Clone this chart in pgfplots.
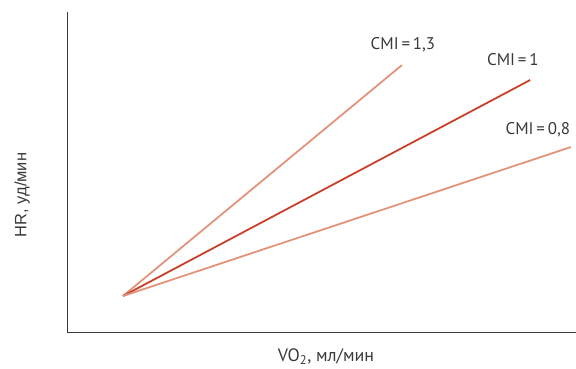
\documentclass[border=0pt]{standalone}
\usepackage{pgfplots}
\pgfplotsset{compat=1.18}
\usepackage{fontspec}
\setmainfont{PT Sans}
\newfontfamily\arialf{Liberation Sans}
\definecolor{light}{HTML}{E3937A}
\definecolor{dark}{HTML}{C8402A}
\definecolor{axc}{HTML}{3A3A3A}
\begin{document}
\begin{tikzpicture}
\path[use as bounding box] (-67bp,-37bp) rectangle (509bp,332bp);
\begin{axis}[
  at={(0,0)}, anchor=origin,
  width=509bp, height=320bp, scale only axis,
  xmin=0, xmax=100, ymin=0, ymax=100,
  axis lines=left,
  axis line style={axc, line width=0.9pt, -},
  xtick=\empty, ytick=\empty,
  clip=false,
]
\addplot[light, line width=1.8pt] coordinates {(11,11.25) (65.8,83.4)};
\addplot[dark, line width=1.8pt] coordinates {(11,11.25) (91,78.75)};
\addplot[light, line width=1.8pt] coordinates {(11,11.25) (99,57.8)};
\node[font=\fontsize{17}{19}\selectfont, text=axc] at (axis cs:66,89.7) {CMI\,=\,1,3};
\node[font=\fontsize{17}{19}\selectfont, text=axc] at (axis cs:87.6,85) {CMI\,=\,1};
\node[font=\fontsize{17}{19}\selectfont, text=axc] at (axis cs:92.5,63.1) {CMI\,=\,0,8};
\end{axis}
\node[font=\fontsize{18}{20}\selectfont, text=axc] at (259bp,-25bp) {VO\textsubscript{2}, мл/мин};
\node[font=\arialf\fontsize{16.5}{18}\selectfont, text=axc, rotate=90] at (-45bp,137bp) {HR, уд/мин};
\end{tikzpicture}
\end{document}
